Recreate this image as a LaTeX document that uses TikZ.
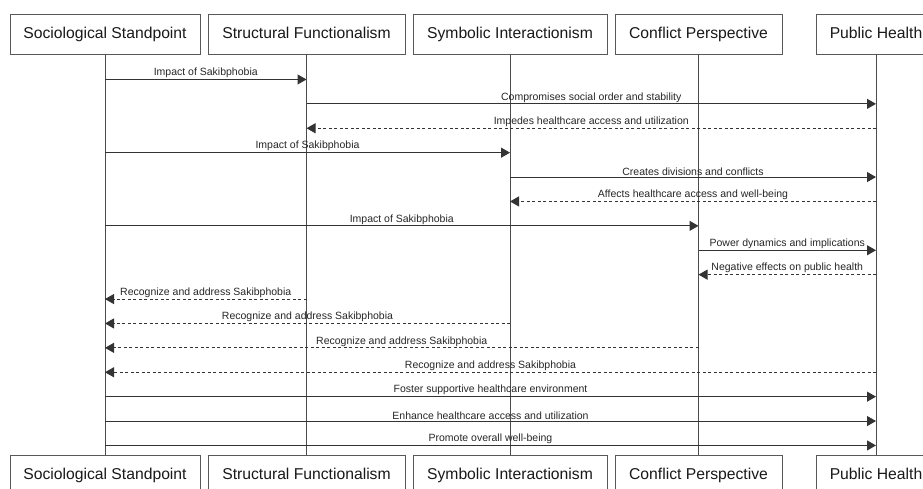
\documentclass[tikz,border=0pt]{standalone}
\usepackage{fontspec}
\setmainfont{Liberation Sans}
\usetikzlibrary{arrows.meta,positioning}

\begin{document}
\begin{tikzpicture}[
      actor/.style={draw=black!65, fill=white, line width=0.9pt, text=black!90,
                    font=\fontsize{15.7}{18}\selectfont,
                    minimum height=40pt, inner sep=0pt,
                    text height=11.5pt, text depth=3.5pt},
      life/.style={draw=black!70, line width=1pt},
      msg/.style={draw=black!80, line width=1pt, -{Triangle[length=9pt,width=10pt]}},
      reply/.style={msg, dash pattern=on 3pt off 2.5pt},
      lbl/.style={font=\fontsize{10.5}{12}\selectfont, text=black!85,
                  inner sep=1pt, above}]
    \useasboundingbox (0,0) rectangle (923pt,-488pt);
    % actors on top
    \node[actor, minimum width=190pt] (ss) at (105pt,-34pt) {Sociological Standpoint};
    \node[actor, minimum width=197pt] (sf) at (306.5pt,-34pt) {Structural Functionalism};
    \node[actor, minimum width=194pt] (si) at (510pt,-34pt) {Symbolic Interactionism};
    \node[actor, minimum width=167pt] (cp) at (698.5pt,-34pt) {Conflict Perspective};
    \node[actor, minimum width=120pt] (ph) at (876pt,-34pt) {Public Health};
    % actors at the bottom
    \node[actor, minimum width=190pt] (ssb) at (105pt,-475pt) {Sociological Standpoint};
    \node[actor, minimum width=197pt] (sfb) at (306.5pt,-475pt) {Structural Functionalism};
    \node[actor, minimum width=194pt] (sib) at (510pt,-475pt) {Symbolic Interactionism};
    \node[actor, minimum width=167pt] (cpb) at (698.5pt,-475pt) {Conflict Perspective};
    \node[actor, minimum width=120pt] (phb) at (876pt,-475pt) {Public Health};
    % lifelines
    \draw[life] (ss) -- (ssb);
    \draw[life] (sf) -- (sfb);
    \draw[life] (si) -- (sib);
    \draw[life] (cp) -- (cpb);
    \draw[life] (ph) -- (phb);
    % messages
    \draw[msg] ([yshift=-25pt]ss.south) -- node[lbl] {Impact of Sakibphobia} ([yshift=-25pt]sf.south);
    \draw[msg] ([yshift=-49.4pt]sf.south) -- node[lbl] {Compromises social order and stability} ([yshift=-49.4pt]ph.south);
    \draw[reply] ([yshift=-73.8pt]ph.south) -- node[lbl] {Impedes healthcare access and utilization} ([yshift=-73.8pt]sf.south);
    \draw[msg] ([yshift=-98.2pt]ss.south) -- node[lbl] {Impact of Sakibphobia} ([yshift=-98.2pt]si.south);
    \draw[msg] ([yshift=-122.6pt]si.south) -- node[lbl] {Creates divisions and conflicts} ([yshift=-122.6pt]ph.south);
    \draw[reply] ([yshift=-147pt]ph.south) -- node[lbl] {Affects healthcare access and well-being} ([yshift=-147pt]si.south);
    \draw[msg] ([yshift=-171.4pt]ss.south) -- node[lbl] {Impact of Sakibphobia} ([yshift=-171.4pt]cp.south);
    \draw[msg] ([yshift=-195.8pt]cp.south) -- node[lbl] {Power dynamics and implications} ([yshift=-195.8pt]ph.south);
    \draw[reply] ([yshift=-220.2pt]ph.south) -- node[lbl] {Negative effects on public health} ([yshift=-220.2pt]cp.south);
    \draw[reply] ([yshift=-244.6pt]sf.south) -- node[lbl] {Recognize and address Sakibphobia} ([yshift=-244.6pt]ss.south);
    \draw[reply] ([yshift=-269pt]si.south) -- node[lbl] {Recognize and address Sakibphobia} ([yshift=-269pt]ss.south);
    \draw[reply] ([yshift=-293.4pt]cp.south) -- node[lbl] {Recognize and address Sakibphobia} ([yshift=-293.4pt]ss.south);
    \draw[reply] ([yshift=-317.8pt]ph.south) -- node[lbl] {Recognize and address Sakibphobia} ([yshift=-317.8pt]ss.south);
    \draw[msg] ([yshift=-342.2pt]ss.south) -- node[lbl] {Foster supportive healthcare environment} ([yshift=-342.2pt]ph.south);
    \draw[msg] ([yshift=-366.6pt]ss.south) -- node[lbl] {Enhance healthcare access and utilization} ([yshift=-366.6pt]ph.south);
    \draw[msg] ([yshift=-391pt]ss.south) -- node[lbl] {Promote overall well-being} ([yshift=-391pt]ph.south);
  \end{tikzpicture}
\end{document}
